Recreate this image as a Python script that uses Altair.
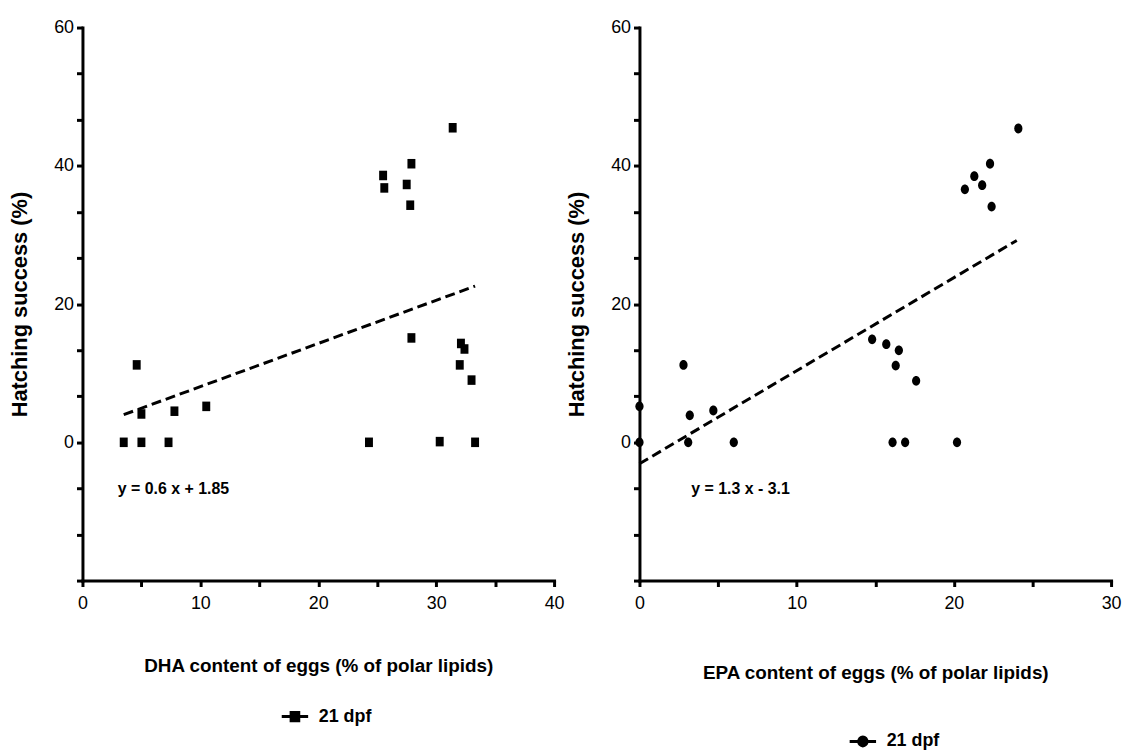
import altair as alt
import pandas as pd

# ---- data ----
series_name = "21 dpf"

dha_x = [3.5, 4.6, 5.0, 5.0, 7.3, 7.8, 10.5, 24.3, 25.5, 25.6, 27.5, 27.9, 27.8,
         27.9, 31.4, 30.3, 32.1, 32.4, 32.0, 33.0, 33.3]
dha_y = [0.0, 11.2, 4.1, 0.0, 0.0, 4.5, 5.2, 0.0, 38.6, 36.8, 37.3, 40.3, 34.3,
         15.1, 45.5, 0.1, 14.3, 13.5, 11.2, 9.0, 0.0]

epa_x = [0.0, 0.0, 2.8, 3.2, 3.1, 4.7, 6.0, 14.8, 15.7, 16.5, 16.3, 17.6, 16.1,
         16.9, 20.2, 20.7, 21.3, 21.8, 22.3, 22.4, 24.1]
epa_y = [0.0, 5.2, 11.2, 3.9, 0.0, 4.6, 0.0, 14.9, 14.2, 13.3, 11.1, 8.9, 0.0,
         0.0, 0.0, 36.6, 38.5, 37.2, 40.3, 34.1, 45.4]

dha_fit_x = [3.5, 33.3]
dha_fit_y = [4.0, 22.6]
epa_fit_x = [0.0, 24.0]
epa_fit_y = [-3.1, 29.2]

dha_eq = ["y = 0.6 x + 1.85"]
dha_eq_x = [3.0]
dha_eq_y = [-6.8]
epa_eq = ["y = 1.3 x - 3.1"]
epa_eq_x = [3.3]
epa_eq_y = [-6.8]

y_ticks = [-20, -13.333, -6.667, 0, 6.667, 13.333, 20, 26.667, 33.333, 40, 46.667, 53.333, 60]
y_labels = [0, 20, 40, 60]
dha_x_ticks = [0, 5, 10, 15, 20, 25, 30, 35, 40]
epa_x_ticks = [0, 5, 10, 15, 20, 25, 30]
x_labels = [0, 10, 20, 30, 40]

FONT = "Liberation Sans"
RECT_SHAPE = "M-1,-1.2L1,-1.2L1,1.2L-1,1.2Z"
OVAL_SHAPE = "M1,0A1,1.2,0,1,1,-1,0A1,1.2,0,1,1,1,0Z"
SQUARE_SYM = "M-1.9,0L1.9,0M-0.55,-0.6L0.55,-0.6L0.55,0.6L-0.55,0.6Z"
CIRCLE_SYM = "M-1.9,0L1.9,0M0.6,0A0.6,0.65,0,1,1,-0.6,0A0.6,0.65,0,1,1,0.6,0Z"


def label_expr(vals):
    return "indexof([" + ",".join(str(v) for v in vals) + "], datum.value) >= 0 ? datum.label : ''"


def panel(xs, ys, fx, fy, eq, ex, ey, shape, size, xdom, xticks, xtitle,
          xtitle_pad, sym, lx, ly, w, h):
    pts = pd.DataFrame({"x": xs, "y": ys, "series": [series_name] * len(xs)})
    fit = pd.DataFrame({"x": fx, "y": fy})
    eqd = pd.DataFrame({"x": ex, "y": ey, "t": eq})

    xaxis = alt.Axis(values=xticks, labelExpr=label_expr(x_labels), title=xtitle,
                     titlePadding=xtitle_pad)
    yaxis = alt.Axis(values=y_ticks, labelExpr=label_expr(y_labels),
                     title="Hatching success (%)", titlePadding=22, titleFontSize=22)
    xs_ = alt.Scale(domain=xdom, nice=False, zero=False)
    ys_ = alt.Scale(domain=[-20, 60], nice=False, zero=False)

    p = alt.Chart(pts).mark_point(filled=True, shape=shape, size=size, opacity=1).encode(
        x=alt.X("x:Q", scale=xs_, axis=xaxis),
        y=alt.Y("y:Q", scale=ys_, axis=yaxis),
        color=alt.Color("series:N", scale=alt.Scale(range=["black"]),
                        legend=alt.Legend(title=None, orient="none", legendX=lx, legendY=ly,
                                          symbolType=sym, symbolSize=196,
                                          symbolStrokeColor="black", symbolStrokeWidth=3,
                                          symbolFillColor="black",
                                          labelFont=FONT, labelFontSize=18,
                                          labelFontWeight="bold", labelColor="black",
                                          labelOffset=15, padding=0)),
    )
    ln = alt.Chart(fit).mark_line(color="black", strokeWidth=3, strokeDash=[10, 5]).encode(
        x=alt.X("x:Q", scale=xs_), y=alt.Y("y:Q", scale=ys_))
    tx = alt.Chart(eqd).mark_text(align="left", baseline="middle", font=FONT, fontSize=16,
                                  fontWeight="bold", color="black").encode(
        x=alt.X("x:Q", scale=xs_), y=alt.Y("y:Q", scale=ys_), text="t:N")
    return alt.layer(p, ln, tx).properties(width=w, height=h)


left = panel(dha_x, dha_y, dha_fit_x, dha_fit_y, dha_eq, dha_eq_x, dha_eq_y, RECT_SHAPE, 64,
             [0, 40], dha_x_ticks, "DHA content of eggs (% of polar lipids)", 45,
             SQUARE_SYM, 205, 685, 475, 557)
right = panel(epa_x, epa_y, epa_fit_x, epa_fit_y, epa_eq, epa_eq_x, epa_eq_y, OVAL_SHAPE, 68,
              [0, 30], epa_x_ticks, "EPA content of eggs (% of polar lipids)", 52,
              CIRCLE_SYM, 216, 710, 475, 557)

chart = alt.hconcat(left, right, spacing=0).resolve_scale(
    color="independent", x="independent", y="independent"
).resolve_legend(color="independent").properties(
    padding={"left": 0, "top": 8, "right": 0, "bottom": 0}
).configure_view(stroke=None).configure_axis(
    grid=False, domainColor="black", domainWidth=3, tickColor="black", tickWidth=3,
    tickSize=6, labelFont=FONT, labelFontSize=18, labelColor="black", labelPadding=3,
    labelFlush=False, labelOverlap=False, titleFont=FONT, titleFontSize=19,
    titleFontWeight="bold", titleColor="black", domainCap="square"
).configure_axisX(labelPadding=8)

chart.save("out.html", embed_options={"renderer": "svg", "actions": False})
